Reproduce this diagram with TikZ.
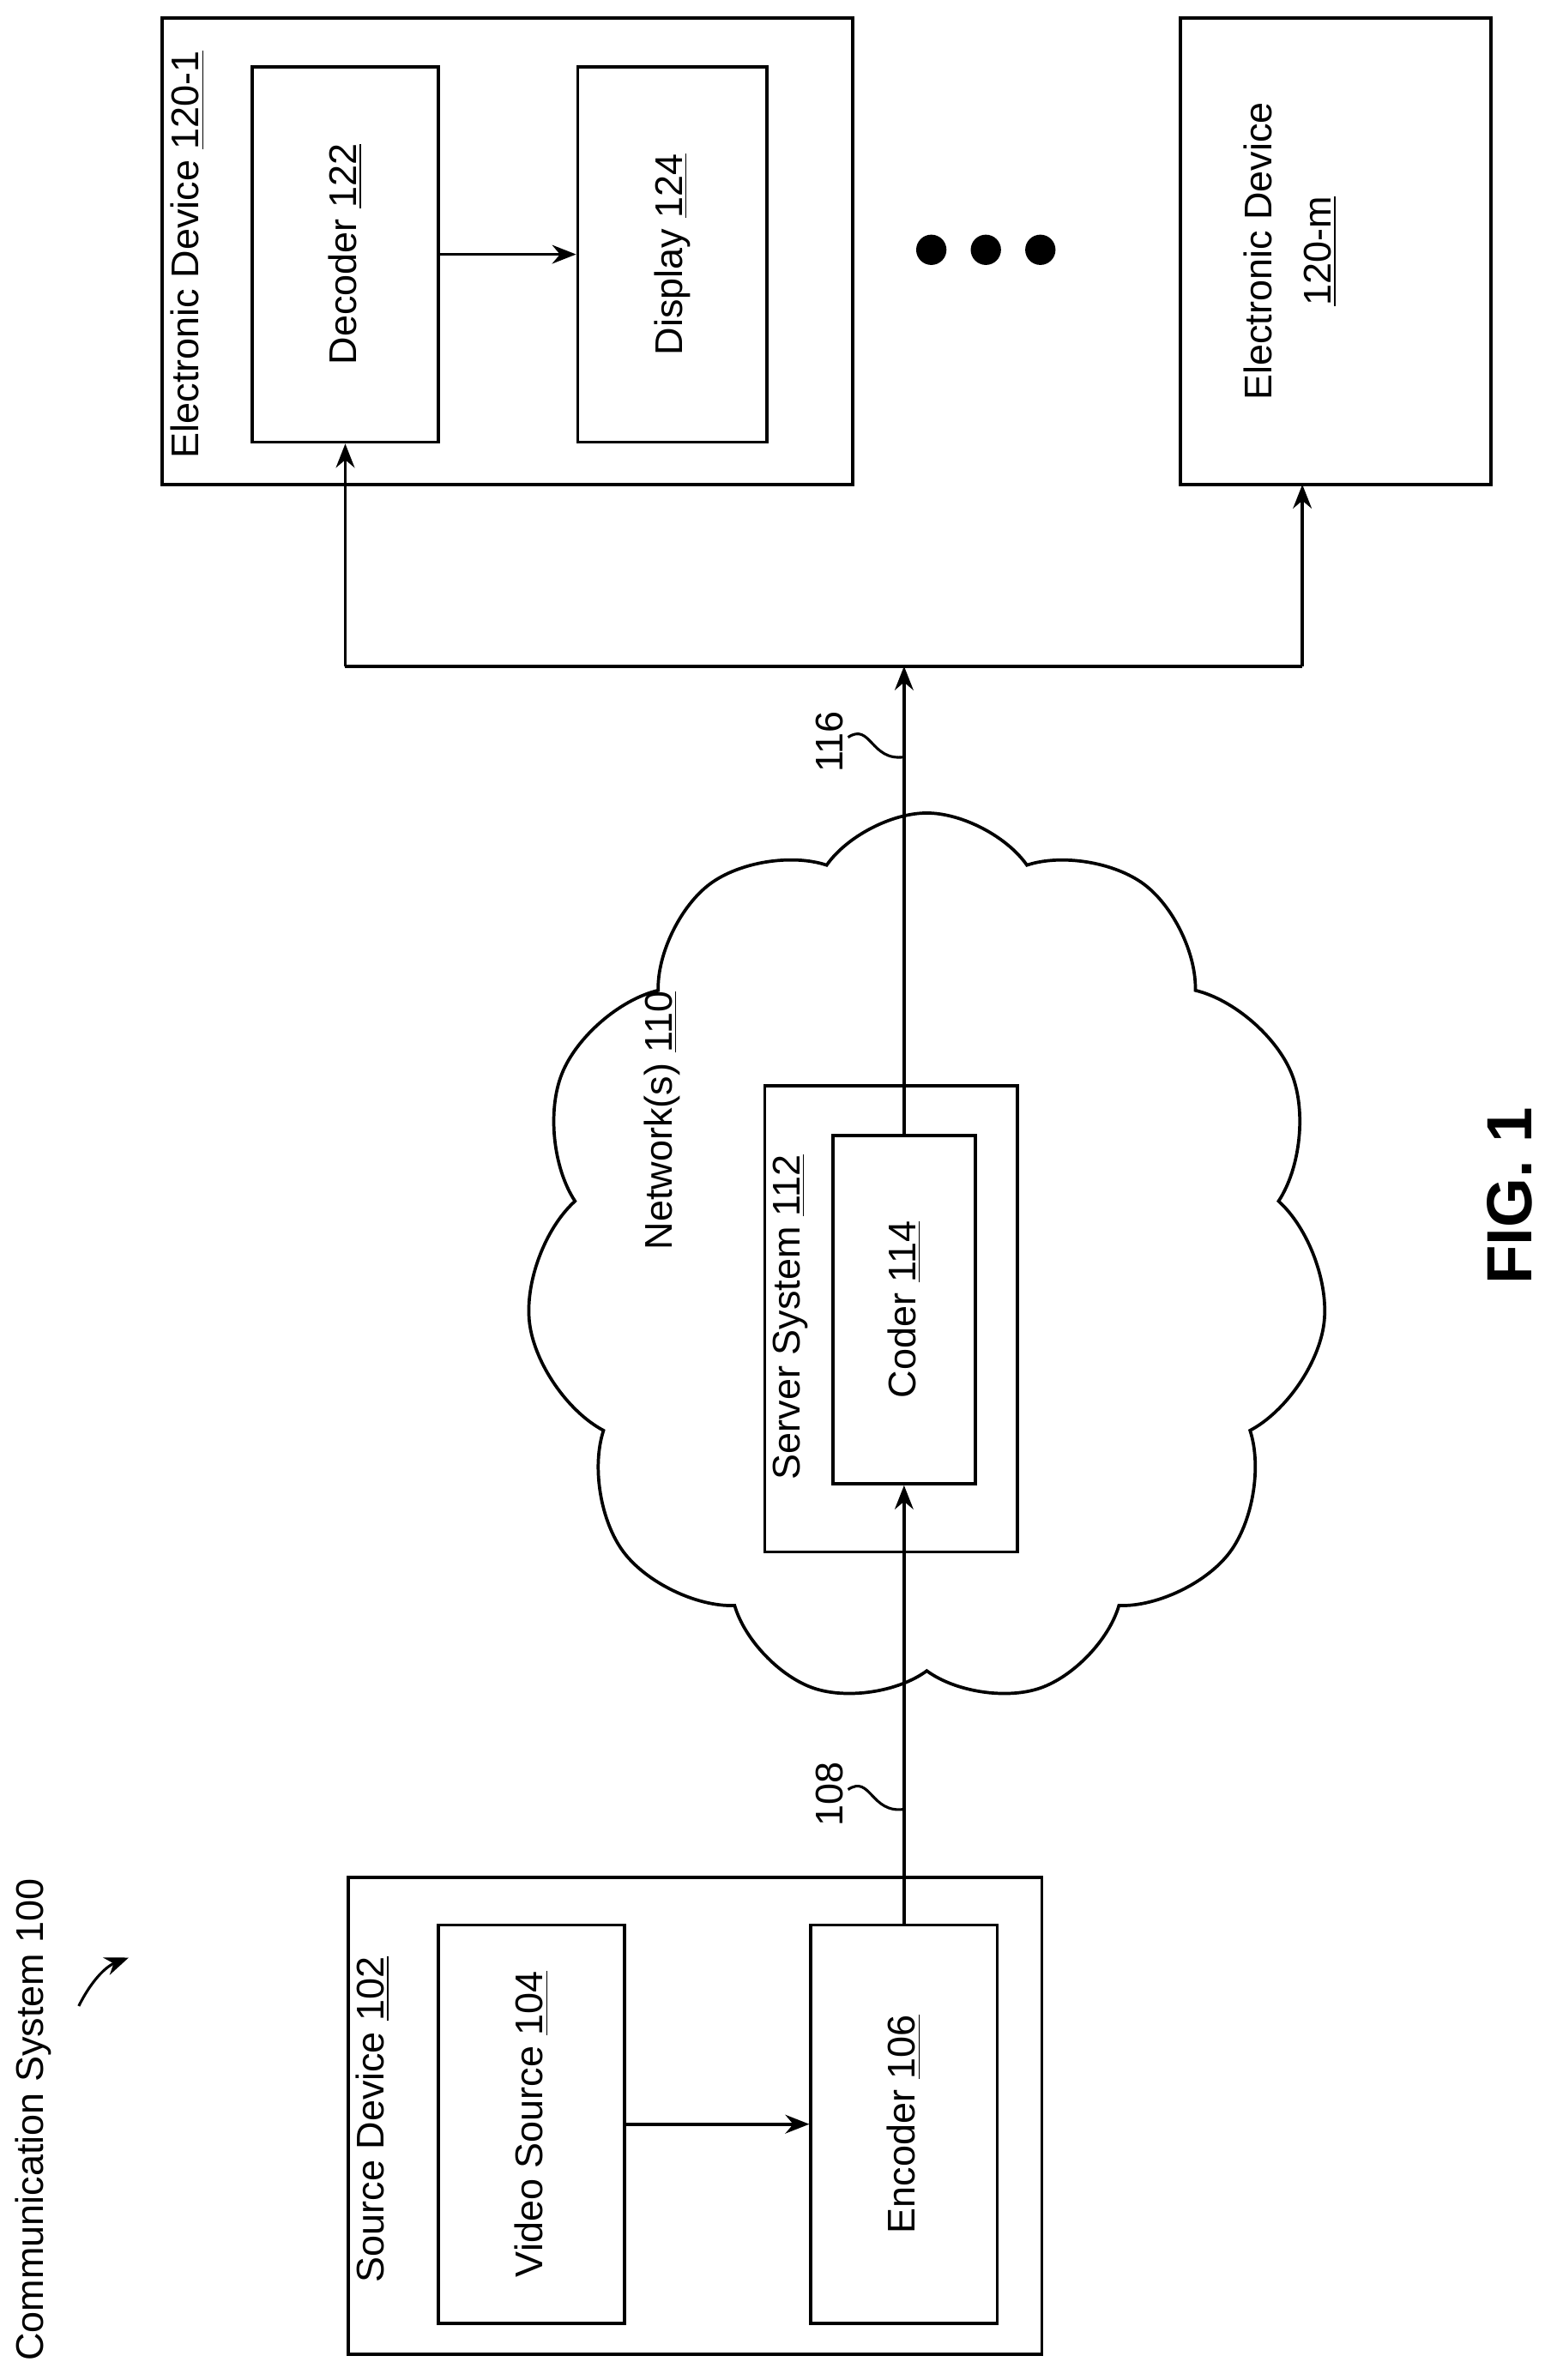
\documentclass[tikz,border=0pt]{standalone}
\usepackage{fontspec}
\setmainfont{Liberation Sans}
\usetikzlibrary{shapes.symbols,arrows.meta}
\begin{document}
\begin{tikzpicture}[x=0.02cm,y=-0.02cm,
  box/.style={draw,line width=1.2pt},
  lab/.style={rotate=90,font=\fontsize{14.5}{17}\selectfont,inner sep=0},
  arr/.style={-{Stealth[length=9pt,width=7pt]},line width=1.2pt}]
\useasboundingbox (0,0) rectangle (1024,1572);
% source device
\draw[box] (230,1240) rectangle (688,1555);
\node[lab] at (246,1400) {Source Device \underline{102}};
\node[box,minimum width=123*0.02cm,minimum height=263*0.02cm] (vs) at (351,1403) {};
\node[lab] at (vs) {Video Source \underline{104}};
\node[box,minimum width=123*0.02cm,minimum height=263*0.02cm] (enc) at (597,1403) {};
\node[lab] at (enc) {Encoder \underline{106}};
\draw[arr] (vs.east) -- (enc.west);
% cloud
\node[cloud,draw,line width=1.2pt,cloud puffs=11,cloud puff arc=110,cloud ignores aspect,minimum width=530*0.02cm,minimum height=590*0.02cm] (cl) at (612,832) {};
\node[lab] at (437,740) {Network(s) \underline{110}};
\draw[box,fill=white] (505,717) rectangle (672,1025);
\node[lab] at (522,870) {Server System \underline{112}};
\node[box,minimum width=94*0.02cm,minimum height=230*0.02cm] (cod) at (597,865) {};
\node[lab] at (cod) {Coder \underline{114}};
\draw[arr] (enc.north) -- (cod.south);
\coordinate (j) at (597,440);
\draw[arr] (cod.north) -- (j);
% labels 108, 116
\node[lab] at (548,1185) {108};
\draw[line width=1pt] (560,1182) .. controls (575,1172) and (575,1198) .. (597,1195);
\node[lab] at (548,490) {116};
\draw[line width=1pt] (560,487) .. controls (575,477) and (575,503) .. (597,500);
% electronic devices
\draw[box] (107,12) rectangle (563,320);
\node[lab] at (124,168) {Electronic Device \underline{120-1}};
\node[box,minimum width=123*0.02cm,minimum height=248*0.02cm] (dec) at (228,168) {};
\node[lab] at (dec) {Decoder \underline{122}};
\node[box,minimum width=125*0.02cm,minimum height=248*0.02cm] (dis) at (444,168) {};
\node[lab] at (dis) {Display \underline{124}};
\draw[arr] (dec.east) -- (dis.west);
\node[box,minimum width=205*0.02cm,minimum height=308*0.02cm] (em) at (882,166) {};
\node[lab,align=center,font=\fontsize{14.5}{22}\selectfont] at (852,166) {Electronic Device\\\underline{120-m}};
\foreach \x in {615,651,687} \fill (\x,165) circle (10);
\draw[line width=1.2pt] (228,440) -- (860,440);
\draw[arr] (228,440) -- (dec.south);
\draw[arr] (860,440) -- (860,320);
% title
\node[lab] at (22,1400) {Communication System 100};
\draw[arr,line width=1pt] (52,1325) .. controls (62,1305) and (72,1298) .. (85,1293);
\node[lab,font=\bfseries\fontsize{24}{28}\selectfont] at (997,790) {FIG. 1};
\end{tikzpicture}
\end{document}
